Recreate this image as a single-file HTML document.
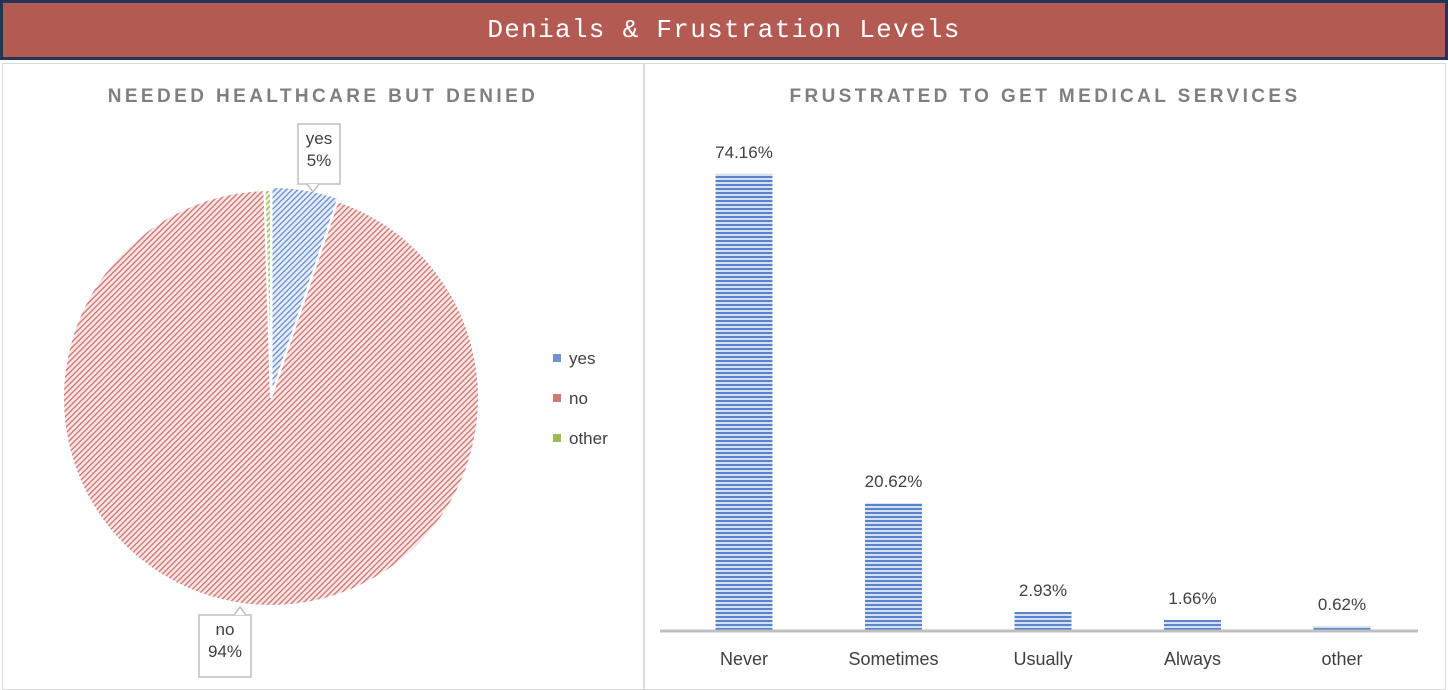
<!DOCTYPE html>
<html><head><meta charset="utf-8"><style>
body{margin:0;width:1448px;height:682px;background:#fff;overflow:hidden;font-family:"Liberation Sans",sans-serif;position:relative}
#hdr{position:absolute;left:0;top:0;width:1442px;height:54px;background:#b35a52;border:3px solid #233554;color:#fff;font-family:"Liberation Mono",monospace;font-size:26px;letter-spacing:1.3px;text-align:center;line-height:54px}
.panel{position:absolute;top:63px;border:1px solid #d9d9d9;background:#fff}
.ttl{position:absolute;width:100%;text-align:center;top:22px;font-weight:bold;color:#7f7f7f;font-size:19px;letter-spacing:3.4px}
svg text{font-family:"Liberation Sans",sans-serif}
</style></head><body>
<div id="hdr">Denials &amp; Frustration Levels</div>
<div class="panel" style="left:2px;width:640px;height:625px"><div class="ttl">NEEDED HEALTHCARE BUT DENIED</div></div>
<div class="panel" style="left:644px;width:800px;height:625px"><div class="ttl">FRUSTRATED TO GET MEDICAL SERVICES</div></div>
<svg id="s" width="1448" height="682" style="position:absolute;left:0;top:0">
<defs>
<pattern id="pb" width="4" height="4" patternUnits="userSpaceOnUse" patternTransform="rotate(45)"><rect width="4" height="4" fill="#e8eef8"/><rect width="1.4" height="4" fill="#6f93d0"/></pattern>
<pattern id="pr" width="4" height="4" patternUnits="userSpaceOnUse" patternTransform="rotate(45)"><rect width="4" height="4" fill="#f7e6e5"/><rect width="1.4" height="4" fill="#d07a76"/></pattern>
<pattern id="pg" width="4" height="4" patternUnits="userSpaceOnUse" patternTransform="rotate(45)"><rect width="4" height="4" fill="#eef4e3"/><rect width="1.4" height="4" fill="#9bbb59"/></pattern>
<pattern id="hs" width="6" height="4" patternUnits="userSpaceOnUse"><rect width="6" height="4" fill="#d6e0f2"/><rect width="6" height="2" fill="#5a84cb"/></pattern>
</defs>
<g id="pie"></g><g id="bars"></g>
</svg>
<script>
const sliceLabels=['yes','no','other'];
const sliceValues=[5.2,94.3,0.5];
const cats=['Never','Sometimes','Usually','Always','other'];
const vals=[74.16,20.62,2.93,1.66,0.62];
const valLabels=['74.16%','20.62%','2.93%','1.66%','0.62%'];
const NS='http://www.w3.org/2000/svg';
function mk(t,a,p){const e=document.createElementNS(NS,t);for(const k in a)e.setAttribute(k,a[k]);p.appendChild(e);return e;}
const pie=document.getElementById('pie');
const cx=271,cy=398,R=208,fills=['url(#pb)','url(#pr)','url(#pg)'];
const tot=sliceValues.reduce((a,b)=>a+b,0);let a0=0;
sliceValues.forEach((v,i)=>{const a1=a0+v/tot*2*Math.PI;const mid=(a0+a1)/2;const off=i==0?3:0;
 const ox=cx+off*Math.sin(mid),oy=cy-off*Math.cos(mid);
 const x0=ox+R*Math.sin(a0),y0=oy-R*Math.cos(a0),x1=ox+R*Math.sin(a1),y1=oy-R*Math.cos(a1);
 const p=mk('path',{d:`M${ox},${oy}L${x0},${y0}A${R},${R} 0 ${a1-a0>Math.PI?1:0} 1 ${x1},${y1}Z`,fill:fills[i],stroke:'#fff','stroke-width':2},pie);
 
 
 a0=a1;});
function callout(x,y,w,h,tx,ty,lines,name){const g=mk('g',{},pie);
 
 
 mk('rect',{x:x,y:y,width:w,height:h,fill:'#fff',stroke:'#bfbfbf','stroke-width':1.5},g);
 mk('path',{d:`M${tx-6},${ty}L${tx},${ty+(ty>y?8:-8)}L${tx+6},${ty}`,fill:'#fff',stroke:'#bfbfbf','stroke-width':1.5},g);
 lines.forEach((l,k)=>{const t=mk('text',{x:x+w/2,y:y+20+k*22,'text-anchor':'middle','font-size':17,fill:'#404040'},g);t.textContent=l;});}
callout(298,124,42,60,313,184,['yes',Math.round(sliceValues[0])+'%'],'yes-data-label');
callout(199,615,52,62,240,615,['no',Math.round(sliceValues[1])+'%'],'no-data-label');
const lc=['#6f93d0','#d07a76','#9bbb59'];
sliceLabels.forEach((l,i)=>{const y=358+i*40;const g=mk('g',{},pie);
 
 
 mk('rect',{x:553,y:y-4,width:8,height:8,fill:lc[i]},g);
 const t=mk('text',{x:569,y:y+6,'font-size':17,fill:'#404040'},g);t.textContent=l;});
const bars=document.getElementById('bars');
const base=630,scale=6.15,x0b=744,step=149.5,bw=57;
const xp=i=>x0b+i*step,yp=v=>base-v*scale;
vals.forEach((v,i)=>{const r=mk('rect',{x:xp(i)-bw/2,y:yp(v),width:bw,height:base-yp(v),fill:'url(#hs)'},bars);
 
 
 const t=mk('text',{x:xp(i),y:yp(v)-16,'text-anchor':'middle','font-size':17,fill:'#404040'},bars);t.textContent=valLabels[i];
 
 
 const c=mk('text',{x:xp(i),y:665,'text-anchor':'middle','font-size':18,fill:'#404040'},bars);c.textContent=cats[i];
 
 });
const ax=mk('line',{x1:660,x2:1418,y1:base+1,y2:base+1,stroke:'#bfbfbf','stroke-width':3},bars);


</script>
</body></html>
